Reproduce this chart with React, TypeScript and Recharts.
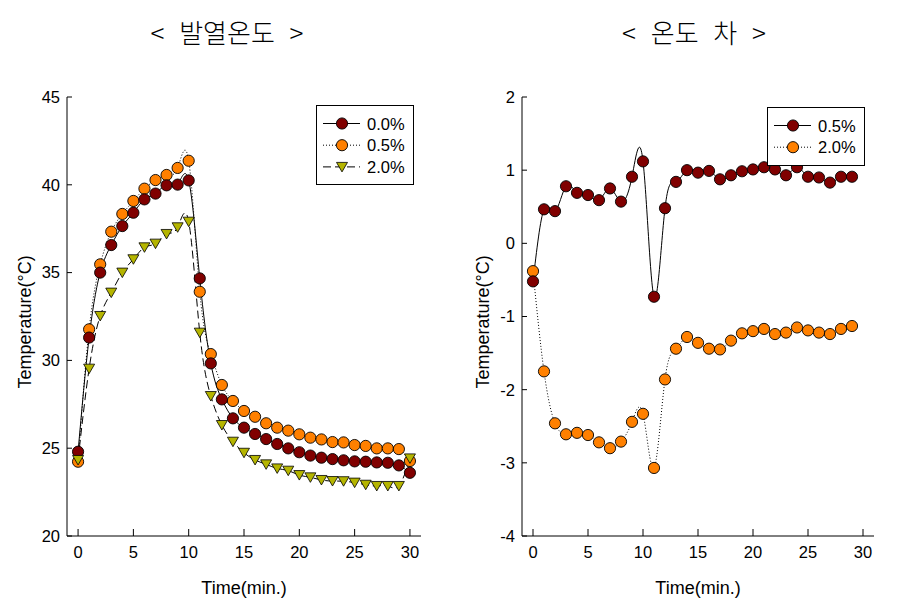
import React from 'react';
import { LineChart, Line, XAxis, YAxis, Legend } from 'recharts';

// ---------- data ----------
const timeLeft = [0, 1, 2, 3, 4, 5, 6, 7, 8, 9, 10, 11, 12, 13, 14, 15, 16, 17, 18, 19, 20, 21, 22, 23, 24, 25, 26, 27, 28, 29, 30];
const heat00 = [24.8, 31.3, 35.0, 36.57, 37.65, 38.41, 39.17, 39.5, 39.97, 40.01, 40.25, 34.67, 29.83, 27.78, 26.7, 26.17, 25.81, 25.52, 25.24, 24.99, 24.77, 24.58, 24.46, 24.38, 24.31, 24.25, 24.23, 24.19, 24.17, 24.02, 23.6];
const heat05 = [24.23, 31.77, 35.47, 37.33, 38.34, 39.08, 39.78, 40.27, 40.56, 40.96, 41.37, 33.91, 30.36, 28.6, 27.69, 27.12, 26.79, 26.42, 26.17, 26.0, 25.79, 25.6, 25.5, 25.35, 25.33, 25.18, 25.13, 24.99, 24.99, 24.95, 24.27];
const heat20 = [24.33, 29.53, 32.53, 33.86, 35.0, 35.76, 36.44, 36.65, 37.2, 37.58, 37.9, 31.58, 27.97, 26.32, 25.37, 24.74, 24.33, 24.08, 23.85, 23.72, 23.47, 23.34, 23.19, 23.13, 23.12, 23.04, 22.92, 22.85, 22.85, 22.85, 24.42];

const timeRight = [0, 1, 2, 3, 4, 5, 6, 7, 8, 9, 10, 11, 12, 13, 14, 15, 16, 17, 18, 19, 20, 21, 22, 23, 24, 25, 26, 27, 28, 29];
const diff05 = [-0.52, 0.465, 0.44, 0.78, 0.69, 0.66, 0.59, 0.75, 0.57, 0.91, 1.12, -0.73, 0.48, 0.84, 1.0, 0.966, 0.99, 0.875, 0.93, 0.985, 1.01, 1.04, 1.01, 0.93, 1.04, 0.91, 0.9, 0.83, 0.91, 0.91];
const diff20 = [-0.38, -1.75, -2.46, -2.61, -2.59, -2.62, -2.72, -2.8, -2.71, -2.44, -2.33, -3.07, -1.86, -1.44, -1.28, -1.36, -1.44, -1.45, -1.33, -1.23, -1.2, -1.17, -1.24, -1.22, -1.15, -1.19, -1.22, -1.24, -1.17, -1.13];

const xTicks = [0, 5, 10, 15, 20, 25, 30];
const leftYTicks = [20, 25, 30, 35, 40, 45];
const rightYTicks = [-4, -3, -2, -1, 0, 1, 2];

const leftTitle = '< 발열온도 >';
const rightTitle = '< 온도 차 >';
const xTitle = 'Time(min.)';
const yTitle = 'Temperature(°C)';

const leftData = timeLeft.map((t, i) => ({ t, a: heat00[i], b: heat05[i], c: heat20[i] }));
const rightData = timeRight.map((t, i) => ({ t, a: diff05[i], b: diff20[i] }));

// ---------- styles ----------
const RED = '#800000';
const ORANGE = '#FF8000';
const OLIVE = '#B5B500';
const FONT = '"Liberation Sans", Arial, sans-serif';
const tickStyle = { fill: '#000', fontSize: 16.5, fontFamily: FONT };

type Marker = 'circle' | 'tri';
interface SeriesCfg { key: string; name: string; color: string; dash?: string; marker: Marker; }

const leftSeries: SeriesCfg[] = [
  { key: 'a', name: '0.0%', color: RED, marker: 'circle' },
  { key: 'b', name: '0.5%', color: ORANGE, dash: '1 2', marker: 'circle' },
  { key: 'c', name: '2.0%', color: OLIVE, dash: '8 4', marker: 'tri' },
];
const rightSeries: SeriesCfg[] = [
  { key: 'a', name: '0.5%', color: RED, marker: 'circle' },
  { key: 'b', name: '2.0%', color: ORANGE, dash: '1 2', marker: 'circle' },
];

const triPath = (cx: number, cy: number) =>
  `M${cx - 5.5},${cy - 4.5} L${cx + 5.5},${cy - 4.5} L${cx},${cy + 5} Z`;

const makeDot = (s: SeriesCfg) => (props: any) => {
  const { cx, cy, index } = props;
  if (cx == null || cy == null) return <g key={`e${index}`} />;
  if (s.marker === 'tri') {
    return <path key={`d${index}`} d={triPath(cx, cy)} fill={s.color} stroke="#000" strokeWidth={0.8} />;
  }
  return <circle key={`d${index}`} cx={cx} cy={cy} r={5.6} fill={s.color} stroke="#000" strokeWidth={0.9} />;
};

const LegendBox = ({ series, width, height }: { series: SeriesCfg[]; width: number; height: number }) => (
  <svg width={width} height={height} style={{ display: 'block' }}>
    <rect x={0.5} y={0.5} width={width - 1} height={height - 1} fill="#fff" stroke="#000" strokeWidth={1} />
    {series.map((s, i) => {
      const cy = 18.5 + i * 21.7;
      return (
        <g key={s.key}>
          <line x1={7} x2={44} y1={cy} y2={cy} stroke="#000" strokeWidth={1} strokeDasharray={s.dash} />
          {s.marker === 'tri' ? (
            <path d={triPath(26, cy)} fill={s.color} stroke="#000" strokeWidth={0.8} />
          ) : (
            <circle cx={26} cy={cy} r={5.6} fill={s.color} stroke="#000" strokeWidth={0.9} />
          )}
          <text x={51} y={cy + 6} style={{ fontSize: 16.5, fontFamily: FONT }} fill="#000">{s.name}</text>
        </g>
      );
    })}
  </svg>
);

const titleStyle = (cx: number): React.CSSProperties => ({
  position: 'absolute',
  left: cx - 150,
  width: 300,
  top: 17,
  textAlign: 'center',
  fontFamily: '"Noto Sans CJK KR Light", "Noto Sans CJK KR", sans-serif',
  fontWeight: 300,
  fontSize: 26,
  lineHeight: '30px',
  wordSpacing: 9,
  color: '#000',
  whiteSpace: 'pre',
});

const XLabel = (cx: number) => () => (
  <text x={cx} y={594} textAnchor="middle" style={{ fontSize: 18, fontFamily: FONT }} fill="#000">{xTitle}</text>
);
const YLabel = (x: number) => () => (
  <text x={x} y={322} textAnchor="middle" style={{ fontSize: 18, fontFamily: FONT }} fill="#000" transform={`rotate(-90 ${x} 322)`} dominantBaseline="central">{yTitle}</text>
);

export default function App() {
  return (
    <div style={{ position: 'absolute', left: 0, top: 0, width: 900, height: 608, background: '#fff' }}>
      <div style={titleStyle(227)}>{leftTitle}</div>
      <div style={titleStyle(694)}>{rightTitle}</div>

      <div style={{ position: 'absolute', left: 0, top: 0 }}>
        <LineChart width={450} height={608} data={leftData} margin={{ top: 97, right: 29, bottom: 0, left: 0 }}>
          <XAxis dataKey="t" type="number" domain={[-1, 31]} ticks={xTicks} height={72} tickSize={-7} tickMargin={17}
            axisLine={{ stroke: '#000' }} tickLine={{ stroke: '#000' }} tick={tickStyle} label={XLabel(244)} interval={0} />
          <XAxis xAxisId="top" orientation="top" dataKey="t" type="number" domain={[-1, 31]} height={0} tick={false} tickLine={false} axisLine={{ stroke: '#000' }} />
          <YAxis type="number" domain={[20, 45]} ticks={leftYTicks} width={67} tickSize={-5} tickMargin={12}
            axisLine={{ stroke: '#000' }} tickLine={{ stroke: '#000' }} tick={tickStyle} label={YLabel(25)} interval={0} />
          <YAxis yAxisId="right" orientation="right" type="number" domain={[20, 45]} width={0} tick={false} tickLine={false} axisLine={{ stroke: '#000' }} />
          {[leftSeries[1], leftSeries[0], leftSeries[2]].map((s) => (
            <Line key={s.key} type="natural" dataKey={s.key} name={s.name} stroke="#000" strokeWidth={1}
              strokeDasharray={s.dash} dot={makeDot(s)} activeDot={false} isAnimationActive={false} />
          ))}
          <Legend layout="vertical" align="center" verticalAlign="middle"
            wrapperStyle={{ left: 316, top: 105, width: 98, height: 80 }}
            content={() => <LegendBox series={leftSeries} width={98} height={80} />} />
        </LineChart>
      </div>

      <div style={{ position: 'absolute', left: 450, top: 0 }}>
        <LineChart width={450} height={608} data={rightData} margin={{ top: 97, right: 26, bottom: 0, left: 0 }}>
          <XAxis dataKey="t" type="number" domain={[-1, 31]} ticks={xTicks} height={72} tickSize={-7} tickMargin={17}
            axisLine={{ stroke: '#000' }} tickLine={{ stroke: '#000' }} tick={tickStyle} label={XLabel(248)} interval={0} />
          <XAxis xAxisId="top" orientation="top" dataKey="t" type="number" domain={[-1, 31]} height={0} tick={false} tickLine={false} axisLine={{ stroke: '#000' }} />
          <YAxis type="number" domain={[-4, 2]} ticks={rightYTicks} width={72} tickSize={-5} tickMargin={12}
            axisLine={{ stroke: '#000' }} tickLine={{ stroke: '#000' }} tick={tickStyle} label={YLabel(33)} interval={0} />
          <YAxis yAxisId="right" orientation="right" type="number" domain={[-4, 2]} width={0} tick={false} tickLine={false} axisLine={{ stroke: '#000' }} />
          {[rightSeries[1], rightSeries[0]].map((s) => (
            <Line key={s.key} type="natural" dataKey={s.key} name={s.name} stroke="#000" strokeWidth={1}
              strokeDasharray={s.dash} dot={makeDot(s)} activeDot={false} isAnimationActive={false} />
          ))}
          <Legend layout="vertical" align="center" verticalAlign="middle"
            wrapperStyle={{ left: 317, top: 107, width: 98, height: 59 }}
            content={() => <LegendBox series={rightSeries} width={98} height={59} />} />
        </LineChart>
      </div>
    </div>
  );
}
